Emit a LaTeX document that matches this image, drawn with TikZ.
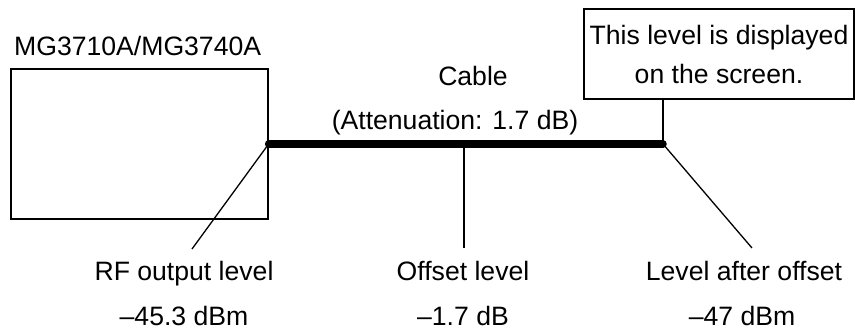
\documentclass[tikz,border=0pt]{standalone}
\usepackage{fontspec}
\setmainfont{Liberation Sans}
\usepackage{tikz}
\usetikzlibrary{positioning,calc}

\begin{document}
\begin{tikzpicture}[
  x=1pt, y=-1pt,
  lbl/.style={inner sep=0pt, font=\fontsize{26.6}{32}\selectfont},
  devbox/.style={draw, line width=1.3pt, minimum width=257pt, minimum height=150pt, inner sep=0pt},
  callout/.style={draw, line width=1.3pt, minimum width=270pt, minimum height=90pt, inner sep=0pt, align=center, font=\fontsize{26.6}{39}\selectfont},
  lead/.style={line width=1.3pt, black},
  cable/.style={line width=7.5pt, line cap=round, black}
]
  \useasboundingbox (0,0) rectangle (855,331);

  \node[devbox] (gen) at (139.5,144) {};
  \node[lbl, anchor=base west] (gentitle) at (14,56) {MG3710A/MG3740A};

  \coordinate (cin) at (gen.east);
  \coordinate (cout) at (663,144);
  \coordinate (tap) at (464,144);
  \draw[cable] (cin) -- (cout);

  \node[lbl, anchor=base] (cablename) at (473,86) {Cable};
  \node[lbl, anchor=base] (cableatt) at (455,130) {(Attenuation: 1.7 dB)};

  \node[callout] (screen) at (719,54) {This level is displayed\\on the screen.};
  \draw[lead] (screen.south -| cout) -- (cout);

  \node[lbl, anchor=base] (rflbl) at (184,281) {RF output level};
  \node[lbl, anchor=base] (rfval) at (184,326) {–45.3 dBm};
  \node[lbl, anchor=base] (offlbl) at (463,281) {Offset level};
  \node[lbl, anchor=base] (offval) at (463,326) {–1.7 dB};
  \node[lbl, anchor=base] (aftlbl) at (744,281) {Level after offset};
  \node[lbl, anchor=base] (aftval) at (742,326) {–47 dBm};

  \coordinate (rftip) at (192,249);
  \coordinate (offtip) at (464,248);
  \coordinate (afttip) at (752,248);
  \draw[lead] (cin) -- (rftip);
  \draw[lead] (tap) -- (offtip);
  \draw[lead] (cout) -- (afttip);
\end{tikzpicture}
\end{document}
